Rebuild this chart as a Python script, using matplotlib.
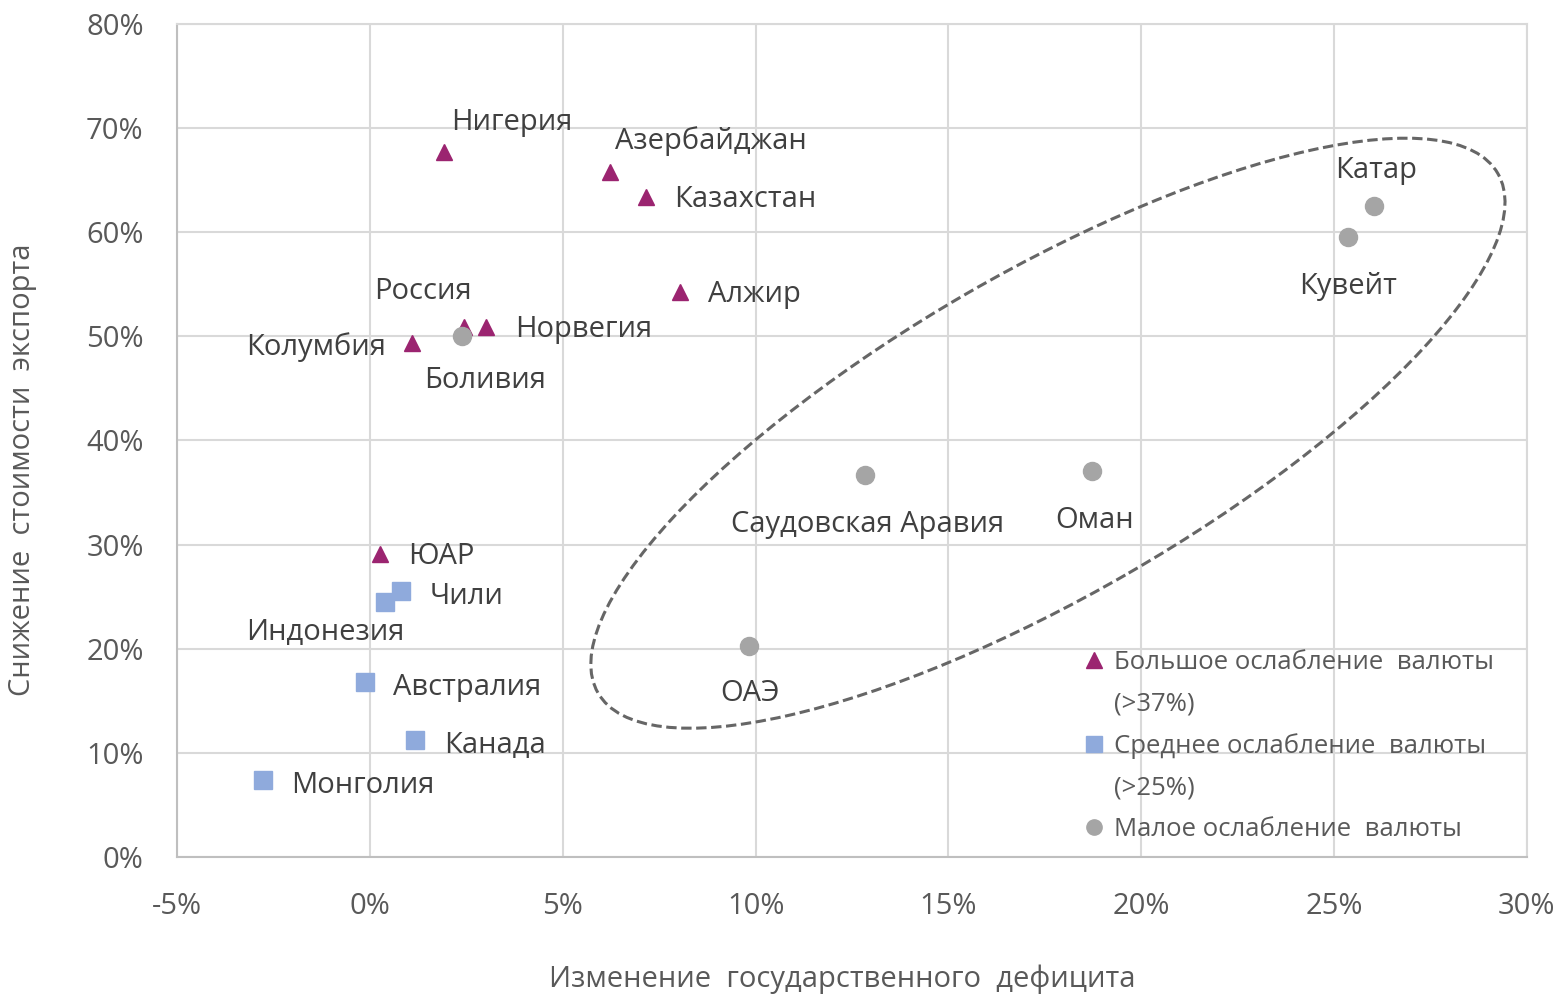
import matplotlib.pyplot as plt
import matplotlib.transforms as mtransforms
from matplotlib.patches import Ellipse
from matplotlib.lines import Line2D

plt.rcParams['font.family'] = ['Open Sans', 'DejaVu Sans']
plt.rcParams['axes.unicode_minus'] = False

# Большое ослабление валюты (>37%)
big_names = ['Нигерия', 'Азербайджан', 'Казахстан', 'Алжир', 'Россия', 'Норвегия', 'Колумбия', 'ЮАР']
big_x = [1.92, 6.22, 7.16, 8.04, 2.44, 3.01, 1.09, 0.26]
big_y = [67.7, 65.8, 63.4, 54.3, 50.9, 50.9, 49.4, 29.1]

# Среднее ослабление валюты (>25%)
mid_names = ['Чили', 'Индонезия', 'Австралия', 'Канада', 'Монголия']
mid_x = [0.80, 0.39, -0.13, 1.17, -2.77]
mid_y = [25.5, 24.5, 16.8, 11.2, 7.4]

# Малое ослабление валюты
small_names = ['Боливия', 'Катар', 'Кувейт', 'Саудовская Аравия', 'Оман', 'ОАЭ']
small_x = [2.40, 26.03, 25.35, 12.85, 18.73, 9.84]
small_y = [50.0, 62.55, 59.5, 36.7, 37.1, 20.3]

legend_labels = ['Большое ослабление  валюты', '(>37%)',
                 'Среднее ослабление  валюты', '(>25%)',
                 'Малое ослабление  валюты']

x_ticks = [-5, 0, 5, 10, 15, 20, 25, 30]
y_ticks = [0, 10, 20, 30, 40, 50, 60, 70, 80]

# подписи точек: смещение в пикселях и выравнивание
label_pos = {
    'Нигерия': (7, 30, 'left'),
    'Азербайджан': (5, 31, 'left'),
    'Казахстан': (28, -3, 'left'),
    'Алжир': (28, -3, 'left'),
    'Россия': (-41, 35, 'center'),
    'Норвегия': (29, -3, 'left'),
    'Колумбия': (-26, -4, 'right'),
    'ЮАР': (28, -3, 'left'),
    'Чили': (29, -5, 'left'),
    'Индонезия': (-60, -31, 'center'),
    'Австралия': (28, -5, 'left'),
    'Канада': (29, -5, 'left'),
    'Монголия': (28, -6, 'left'),
    'Боливия': (23, -44, 'center'),
    'Катар': (2, 35, 'center'),
    'Кувейт': (0, -49, 'center'),
    'Саудовская Аравия': (2, -50, 'center'),
    'Оман': (2, -50, 'center'),
    'ОАЭ': (1, -48, 'center'),
}

c_big = '#9B2470'
c_mid = '#8FAADC'
c_small = '#A5A5A5'

fig = plt.figure(figsize=(15.6, 9.94), dpi=100)
ax = fig.add_axes([0.1135, 0.1378, 0.8653, 0.8381])

ax.plot(big_x, big_y, ls='none', marker='^', ms=11.5, color=c_big, zorder=3)
ax.plot(mid_x, mid_y, ls='none', marker='s', ms=12.5, color=c_mid, zorder=3)
ax.plot(small_x, small_y, ls='none', marker='o', ms=13, color=c_small, zorder=3)

for names, xs, ys in [(big_names, big_x, big_y), (mid_names, mid_x, mid_y),
                      (small_names, small_x, small_y)]:
    for n, x, y in zip(names, xs, ys):
        dx, dy, ha = label_pos[n]
        ax.annotate(n, (x, y), xytext=(dx, dy), textcoords='offset pixels',
                    ha=ha, va='center', fontsize=21, color='#404040', zorder=4)

# пунктирный овал вокруг стран Залива
trans = fig.dpi_scale_trans + mtransforms.ScaledTranslation(17.58, 40.7, ax.transData)
ax.add_patch(Ellipse((0, 0), 10.39, 3.23, angle=30, transform=trans, fill=False,
                     edgecolor='#666666', lw=2.2, ls=(0, (3.4, 1.5)), zorder=2))

ax.set_xlim(-5, 30)
ax.set_ylim(0, 80)
ax.set_xticks(x_ticks)
ax.set_yticks(y_ticks)
ax.set_xticklabels([f'{t}%' for t in x_ticks])
ax.set_yticklabels([f'{t}%' for t in y_ticks])
ax.tick_params(length=0, labelsize=21, labelcolor='#595959')
ax.tick_params(axis='x', pad=25)
ax.tick_params(axis='y', pad=24)
ax.grid(color='#D9D9D9', lw=1.5)
ax.set_axisbelow(True)
for s in ['top', 'right']:
    ax.spines[s].set_color('#D9D9D9')
    ax.spines[s].set_linewidth(1.5)
for s in ['left', 'bottom']:
    ax.spines[s].set_color('#BFBFBF')
    ax.spines[s].set_linewidth(1.5)

ax.set_xlabel('Изменение  государственного  дефицита', fontsize=21, color='#595959')
ax.set_ylabel('Снижение  стоимости  экспорта', fontsize=21, color='#595959')
ax.xaxis.set_label_coords(0.4926, -0.129)
ax.yaxis.set_label_coords(-0.104, 0.465)

handles = [Line2D([], [], ls='none', marker='^', ms=11, color=c_big),
           Line2D([], [], ls='none'),
           Line2D([], [], ls='none', marker='s', ms=11, color=c_mid),
           Line2D([], [], ls='none'),
           Line2D([], [], ls='none', marker='o', ms=11, color=c_small)]
leg = ax.legend(handles, legend_labels, loc='upper left', bbox_to_anchor=(0.6715, 0.249),
                frameon=False, fontsize=18.5, handlelength=0.8, handletextpad=0.4,
                borderpad=0, borderaxespad=0, labelspacing=0.65)
for t in leg.get_texts():
    t.set_color('#595959')

fig.savefig('out.png', dpi=100)
